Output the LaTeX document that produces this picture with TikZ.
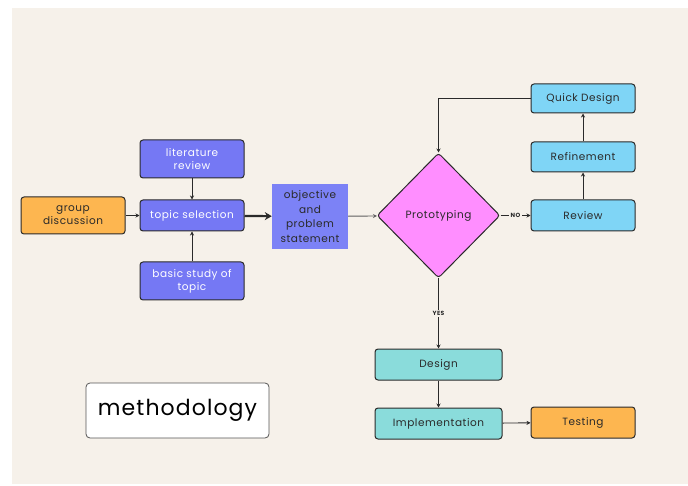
\documentclass[tikz,border=0pt]{standalone}
\usepackage{fontspec}
\setmainfont{Poppins}[LetterSpace=5]
\usetikzlibrary{arrows.meta,positioning,shapes.geometric}

\definecolor{bgbeige}{HTML}{F6F1EA}
\definecolor{edge}{HTML}{2A2A2A}
\definecolor{amber}{HTML}{FDB650}
\definecolor{violetbox}{HTML}{7578F4}
\definecolor{violetflat}{HTML}{7C82F6}
\definecolor{pinkbox}{HTML}{FF8EFF}
\definecolor{skybox}{HTML}{7FD5F6}
\definecolor{tealbox}{HTML}{8ADCDB}

\begin{document}
\begin{tikzpicture}[
  x=1pt, y=-1pt,
  font=\fontsize{10.5}{13}\selectfont,
  box/.style={draw=edge, line width=1pt, rounded corners=3pt, align=center,
              inner sep=2pt, minimum width=104pt, minimum height=31pt, text=edge},
  flatbox/.style={fill=violetflat, align=center, inner sep=2pt,
              minimum width=76pt, minimum height=65pt, text=edge,
              font=\fontsize{10.5}{14.5}\selectfont},
  decision/.style={diamond, draw=edge, line width=1pt, rounded corners=3pt,
              fill=pinkbox, inner sep=0pt, minimum width=123pt, minimum height=125pt, text=edge},
  tag/.style={font=\fontsize{6}{7}\selectfont\bfseries, fill=bgbeige, inner sep=1.5pt},
  arr/.style={-{Stealth[length=4pt, width=4pt]}, line width=0.9pt, edge},
  fatarr/.style={-{Stealth[length=7pt, width=8pt]}, line width=2.2pt, edge}
]

\useasboundingbox (0,0) rectangle (688,486);
\fill[bgbeige] (12,8) rectangle (688,484);

% ---------- topic ----------
\node[box, fill=violetbox, text=white] (topic) at (192,215.5) {topic selection};
\node[box, fill=violetbox, text=white, minimum height=38pt, above=21pt of topic] (litrev)
  {literature\\review};
\node[box, fill=violetbox, text=white, minimum height=38pt, below=30pt of topic] (basic)
  {basic study of\\topic};
\node[box, fill=amber, minimum height=37pt, left=14pt of topic] (group)
  {group\\discussion};
\node[flatbox] (objective) at (310,216.5) {objective\\and\\problem\\statement};

\draw[arr] (group) -- (topic);
\draw[arr] (litrev) -- (topic);
\draw[arr] (basic) -- (topic);
\draw[fatarr] (topic) -- (objective);

% ---------- prototype loop ----------
\node[decision] (proto) at (438.5,215.5) {Prototyping};
\node[box, fill=skybox] (review) at (583,215.5) {Review};
\node[box, fill=skybox, minimum height=30pt] (refine) at (583,157) {Refinement};
\node[box, fill=skybox, minimum height=29pt] (quick) at (583,98.5) {Quick Design};

\draw[arr, edge!75] (objective) -- (proto);
\draw[arr] (proto) -- node[tag]{NO} (review);
\draw[arr] (review) -- (refine);
\draw[arr] (refine) -- (quick);
\draw[arr] (quick.west) -| (proto.north);

% ---------- build ----------
\node[box, fill=tealbox, minimum width=127pt] (design) at (438.5,364.5) {Design};
\node[box, fill=tealbox, minimum width=127pt, below=27pt of design] (impl) {Implementation};
\node[box, fill=amber] (testing) at (583,422.5) {Testing};

\draw[arr] (proto) -- node[tag]{YES} (design);
\draw[arr] (design) -- (impl);
\draw[arr] (impl) -- (testing);

% ---------- title ----------
\node[draw=edge!80, line width=0.8pt, rounded corners=4pt, fill=white,
      minimum width=183pt, minimum height=55pt, font=\fontsize{22}{25}\selectfont]
  (title) at (177.5,410.5) {methodology};

\end{tikzpicture}
\end{document}
